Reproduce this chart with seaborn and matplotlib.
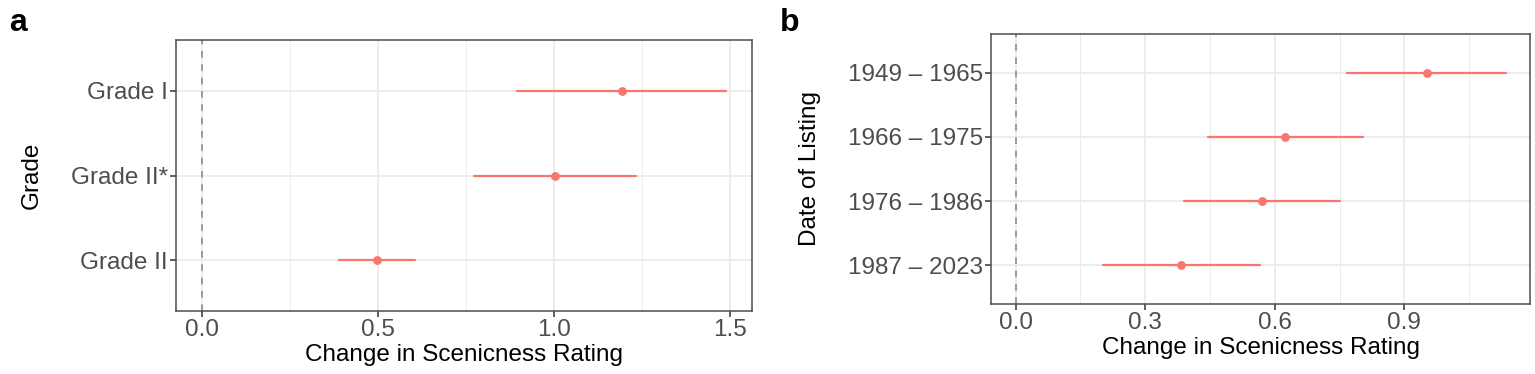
import numpy as np
import pandas as pd
import matplotlib
matplotlib.use("Agg")
import matplotlib.pyplot as plt
from matplotlib.ticker import MultipleLocator, FixedLocator
import seaborn as sns

# ---- data ----
grade_cats = ["Grade I", "Grade II*", "Grade II"]
grade_est = [1.192, 1.002, 0.496]
grade_lo = [0.895, 0.773, 0.388]
grade_hi = [1.488, 1.233, 0.605]
grade_xticks = [0.0, 0.5, 1.0, 1.5]

date_cats = ["1949 \u2013 1965", "1966 \u2013 1975", "1976 \u2013 1986", "1987 \u2013 2023"]
date_est = [0.952, 0.624, 0.571, 0.384]
date_lo = [0.768, 0.445, 0.390, 0.202]
date_hi = [1.134, 0.804, 0.751, 0.566]
date_xticks = [0.0, 0.3, 0.6, 0.9]

RED = "#F8766D"
FS = 17.5

sns.set_theme(style="white")
plt.rcParams["font.family"] = ["Liberation Sans", "DejaVu Sans"]


def long_frame(cats, est, lo, hi):
    rows = []
    for c, e, l, h in zip(cats, est, lo, hi):
        for v in (l, e, h):
            rows.append({"cat": c, "val": v})
    return pd.DataFrame(rows)


def panel(ax, cats, est, lo, hi, xticks, minor_step, ylabel, ylabelpad):
    df = long_frame(cats, est, lo, hi)
    sns.pointplot(data=df, x="val", y="cat", order=cats, orient="h",
                  estimator="median", errorbar=lambda x: (x.min(), x.max()),
                  color=RED, linestyle="none", markersize=4.3,
                  err_kws={"linewidth": 1.6}, ax=ax, zorder=5)
    n = len(cats)
    ax.set_ylim(n - 1 + 0.6, -0.6)
    xmax = max(hi)
    pad = 0.05 * xmax
    ax.set_xlim(-pad, xmax + pad)
    ax.xaxis.set_major_locator(FixedLocator(xticks))
    ax.xaxis.set_minor_locator(MultipleLocator(minor_step))
    ax.set_xticklabels([f"{t:.1f}" for t in xticks])
    ax.grid(True, which="major", axis="both", color="#EBEBEB", linewidth=1.3, zorder=0)
    ax.grid(True, which="minor", axis="x", color="#EBEBEB", linewidth=0.7, zorder=0)
    ax.set_axisbelow(True)
    ax.axvline(0, color="#8C8C8C", linestyle=(0, (4, 4)), linewidth=1.2, zorder=2)
    for s in ax.spines.values():
        s.set_visible(True)
        s.set_color("#4D4D4D")
        s.set_linewidth(1.1)
    ax.tick_params(axis="both", which="major", length=4, width=1.1, color="#333333",
                   labelsize=FS, labelcolor="#4D4D4D", direction="out", pad=2,
                   bottom=True, left=True)
    ax.tick_params(axis="x", which="minor", length=0)
    ax.set_xlabel("Change in Scenicness Rating", fontsize=FS, color="black", labelpad=2)
    ax.set_ylabel(ylabel, fontsize=FS, color="black", labelpad=ylabelpad)


fig = plt.figure(figsize=(15.35, 3.74), dpi=100)
ax1 = fig.add_axes([176 / 1535, (374 - 311) / 374, 576 / 1535, 271 / 374])
ax2 = fig.add_axes([991 / 1535, (374 - 304) / 374, 539 / 1535, 270 / 374])

panel(ax1, grade_cats, grade_est, grade_lo, grade_hi, grade_xticks, 0.25, "Grade", 20)
panel(ax2, date_cats, date_est, date_lo, date_hi, date_xticks, 0.15, "Date of Listing", 19)

fig.text(9 / 1535, 1 - 31 / 374, "a", fontsize=23, fontweight="bold", color="black",
         va="baseline", ha="left")
fig.text(780 / 1535, 1 - 31 / 374, "b", fontsize=23, fontweight="bold", color="black",
         va="baseline", ha="left")

fig.savefig("out.png", dpi=100, facecolor="white")
